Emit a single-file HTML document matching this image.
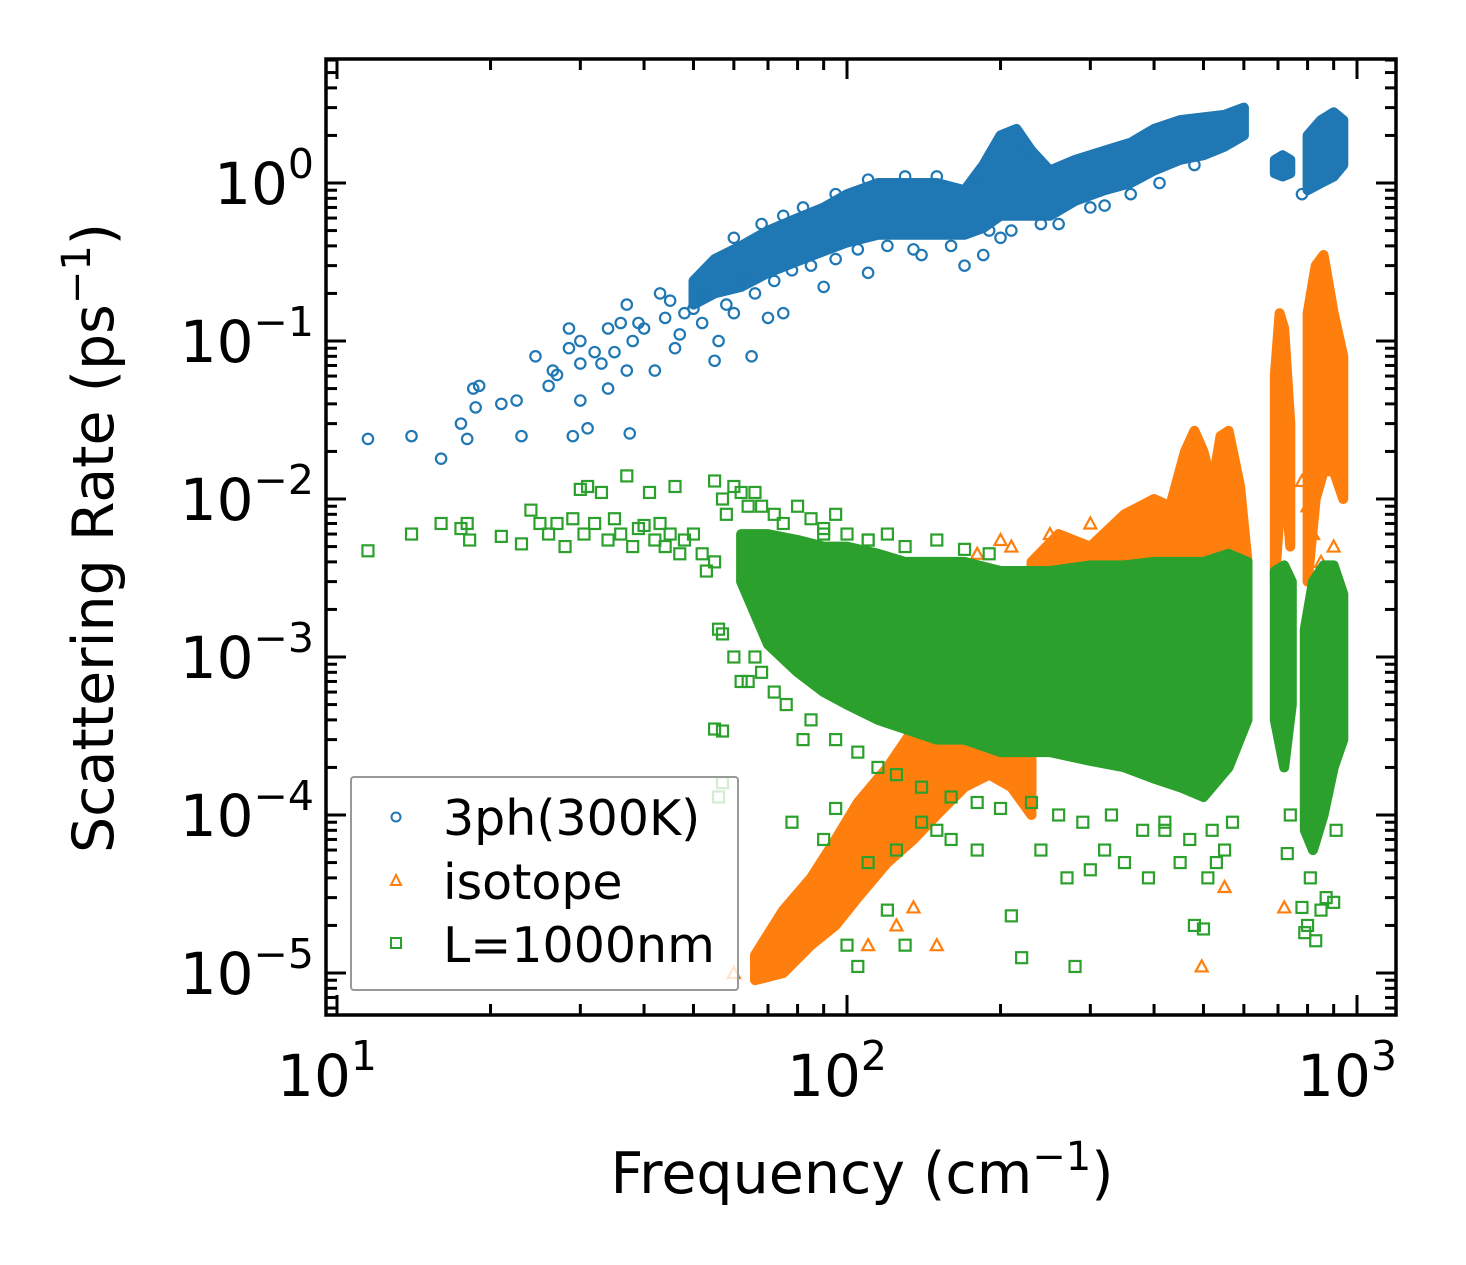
<!DOCTYPE html>
<html><head><meta charset="utf-8"><style>
body{margin:0;background:#fff;}
svg{display:block;font-family:"DejaVu Sans","Liberation Sans",sans-serif;}
</style></head><body>
<svg id="chart" width="1466" height="1265" viewBox="0 0 1466 1265" xmlns="http://www.w3.org/2000/svg">
<rect width="1466" height="1265" fill="#fff"/>
<defs><clipPath id="pc"><rect x="326" y="59" width="1070" height="956"/></clipPath></defs>
<g id="plot" clip-path="url(#pc)"></g>
<g id="axes"></g>
<g id="legend">
<rect x="351" y="777" width="387" height="213" rx="3" fill="#fff" fill-opacity="0.8" stroke="#999" stroke-width="2"/>
<circle cx="396" cy="817" r="4.5" fill="none" stroke="#1f77b4" stroke-width="2"/>
<text x="443" y="835" font-size="49">3ph(300K)</text>
<path d="M396,875 L401,885 L391,885 Z" fill="none" stroke="#ff7f0e" stroke-width="2"/>
<text x="443" y="899" font-size="49">isotope</text>
<rect x="391" y="938" width="10" height="10" fill="none" stroke="#2ca02c" stroke-width="2"/>
<text x="443" y="962" font-size="49">L=1000nm</text>
</g>
<text x="862" y="1193" font-size="57" text-anchor="middle">Frequency (cm<tspan dy="-23" font-size="40">−1</tspan><tspan dy="23">)</tspan></text>
<text transform="translate(113,538) rotate(-90)" font-size="57" text-anchor="middle">Scattering Rate (ps<tspan dy="-23" font-size="40">−1</tspan><tspan dy="23">)</tspan></text>
</svg>
<script>
// ---- data ----
const blueBandF=[50,55,62,70,80,90,100,115,130,150,170,185,200,215,230,250,280,320,360,400,450,500,550,600];
const blueBandLo=[0.17,0.2,0.22,0.27,0.32,0.37,0.42,0.47,0.47,0.47,0.47,0.52,0.62,0.62,0.62,0.62,0.77,0.9,1.0,1.2,1.4,1.5,1.7,2.0];
const blueBandHi=[0.24,0.33,0.4,0.5,0.6,0.7,0.85,1.0,1.0,1.0,0.9,1.3,2.0,2.2,1.6,1.2,1.4,1.6,1.8,2.2,2.5,2.6,2.7,3.0];
const blueB2F=[690,715,740];const blueB2Lo=[1.15,1.1,1.15];const blueB2Hi=[1.4,1.5,1.4];
const blueB3F=[800,850,900,940];const blueB3Lo=[0.9,1.0,1.1,1.3];const blueB3Hi=[2.0,2.5,2.8,2.5];
const blueF=[11.5,14,16,17.5,18,18.5,19,18.7,21,22.5,23,24.5,26,26.5,27,28.5,28.5,29,30,30,30,31,32,33,34,34,35,36,37,37.5,37,38,39,40,42,43,44,46,47,50,52,55,56,60,65,70,75,90,110,140,170,185,200,210,260,320,410,480,780,45,48,52,58,62,66,72,78,85,95,105,120,135,160,190,240,300,360,60,68,75,82,95,110,130,150,180,220];
const blueV=[0.024,0.025,0.018,0.03,0.024,0.05,0.052,0.038,0.04,0.042,0.025,0.08,0.052,0.065,0.061,0.12,0.09,0.025,0.1,0.042,0.072,0.028,0.085,0.072,0.05,0.12,0.085,0.13,0.065,0.026,0.17,0.1,0.13,0.12,0.065,0.2,0.14,0.09,0.11,0.16,0.13,0.075,0.1,0.15,0.08,0.14,0.15,0.22,0.27,0.35,0.3,0.35,0.45,0.5,0.55,0.72,1.0,1.3,0.85,0.18,0.15,0.2,0.17,0.25,0.2,0.24,0.28,0.3,0.33,0.38,0.4,0.38,0.4,0.5,0.55,0.7,0.85,0.45,0.55,0.62,0.7,0.85,1.05,1.1,1.1,1.0,1.5];

const orBandF=[66,75,85,95,105,120,135,150,170,190,210,230];
const orBandLo=[9e-6,1e-5,1.5e-5,2e-5,3e-5,5e-5,7e-5,1e-4,1.5e-4,1.8e-4,1.5e-4,1e-4];
const orBandHi=[1.3e-5,2.5e-5,4e-5,7e-5,1.2e-4,2e-4,3.5e-4,5e-4,7e-4,7e-4,5e-4,3e-4];
const orB2F=[230,260,300,350,400,430,460,480,500,520,540,560,590,610];
const orB2Lo=[3e-3,3e-3,3e-3,3e-3,3e-3,3e-3,3e-3,3e-3,3e-3,3e-3,3e-3,3e-3,3e-3,3e-3];
const orB2Hi=[4e-3,6e-3,5e-3,8e-3,1e-2,9e-3,2e-2,2.7e-2,2e-2,1.2e-2,2.5e-2,2.7e-2,1.2e-2,4e-3];
const orB3F=[690,705,720,740];const orB3Lo=[3e-3,8e-3,1.5e-2,5e-3];const orB3Hi=[0.06,0.15,0.12,0.03];
const orB4F=[800,830,860,900,940];const orB4Lo=[3e-3,1e-2,1.5e-2,1.5e-2,1e-2];const orB4Hi=[0.15,0.3,0.35,0.15,0.08];
const orF=[700,705,720,780,800,820,850,900,920,496,550,720,110,125,135,150,60,70,180,200,210,250,270,300];
const orV=[0.022,0.014,0.012,0.013,0.009,0.006,0.004,0.005,0.003,1.1e-5,3.5e-5,2.6e-5,1.5e-5,2e-5,2.6e-5,1.5e-5,1e-5,1.1e-5,4.5e-3,5.5e-3,5e-3,6e-3,5.5e-3,7e-3];

const grBandF=[62,70,80,90,100,115,130,150,170,200,250,300,350,400,450,500,560,610];
const grBandLo=[3e-3,1.2e-3,8e-4,6e-4,5e-4,4e-4,3.5e-4,3e-4,3e-4,2.5e-4,2.5e-4,2.2e-4,2e-4,1.7e-4,1.5e-4,1.3e-4,2e-4,4e-4];
const grBandHi=[6e-3,6e-3,5.5e-3,5e-3,5e-3,4.5e-3,4e-3,4e-3,4e-3,3.5e-3,3.5e-3,3.8e-3,3.8e-3,4e-3,4e-3,4e-3,4.5e-3,4e-3];
const grB2F=[690,720,745];const grB2Lo=[4e-4,2e-4,5e-4];const grB2Hi=[3.5e-3,3.8e-3,3e-3];
const grB3F=[790,820,860,900,940];const grB3Lo=[8e-5,6e-5,1e-4,2e-4,3e-4];const grB3Hi=[1.5e-3,3e-3,3.8e-3,3.8e-3,2.5e-3];
const grF=[11.5,14,16,17.5,18,18.2,21,23,24,25,26,27,28,29,30,30.5,31,32,33,34,35,36,37,38,39,40,41,42,43,44,45,46,47,48,50,52,53,55,55,57,58,60,62,64,66,68,72,75,80,85,90,95,100,110,120,56,57,55,57,57,56,60,62,64,66,78,82,90,95,100,105,110,120,125,130,140,150,160,180,210,220,240,270,280,300,320,350,390,420,450,480,500,510,530,550,730,740,780,790,800,810,830,850,870,900,910,68,72,76,85,95,105,115,125,140,160,180,200,230,260,290,330,380,420,470,520,570,130,150,170,190,110,90];
const grV=[4.7e-3,6e-3,7e-3,6.5e-3,7e-3,5.5e-3,5.8e-3,5.2e-3,8.5e-3,7e-3,6e-3,7e-3,5e-3,7.5e-3,1.15e-2,6e-3,1.2e-2,7e-3,1.1e-2,5.5e-3,7.5e-3,6e-3,1.4e-2,5e-3,6.5e-3,6.8e-3,1.1e-2,5.5e-3,7e-3,5e-3,6e-3,1.2e-2,4.5e-3,5.5e-3,6e-3,4.5e-3,3.5e-3,1.3e-2,4e-3,1e-2,8e-3,1.2e-2,1.1e-2,9e-3,1.1e-2,9e-3,8e-3,7e-3,9e-3,7.5e-3,6.5e-3,8e-3,6e-3,5.5e-3,6e-3,1.5e-3,1.4e-3,3.5e-4,3.4e-4,1.6e-4,1.3e-4,1e-3,7e-4,7e-4,1e-3,9e-5,3e-4,7e-5,1.1e-4,1.5e-5,1.1e-5,5e-5,2.5e-5,6e-5,1.5e-5,9e-5,8e-5,7e-5,6e-5,2.3e-5,1.25e-5,6e-5,4e-5,1.1e-5,4.5e-5,6e-5,5e-5,4e-5,8e-5,5e-5,2e-5,1.9e-5,4e-5,5e-5,6e-5,5.7e-5,1e-4,2.6e-5,1.8e-5,2e-5,4e-5,1.6e-5,2.5e-5,3e-5,2.8e-5,8e-5,8e-4,6e-4,5e-4,4e-4,3e-4,2.5e-4,2e-4,1.8e-4,1.5e-4,1.3e-4,1.2e-4,1.1e-4,1.2e-4,1e-4,9e-5,1e-4,8e-5,9e-5,7e-5,8e-5,9e-5,5e-3,5.5e-3,4.8e-3,4.5e-3,5.5e-3,6e-3];

const xTickVals=[1,2,3];const xTickLabels=["1","2","3"];
const yTickVals=[0,-1,-2,-3,-4,-5];const yTickLabels=["0","−1","−2","−3","−4","−5"];

// ---- axes ----
const X0=847,XD=510,Y0=183,YD=158;
function xs(f){return X0+XD*(Math.log10(f)-2);}
function ys(v){return Y0-YD*Math.log10(v);}
const NS="http://www.w3.org/2000/svg";
const plot=document.getElementById('plot'),axes=document.getElementById('axes');
function mk(tag,attrs,parent){const e=document.createElementNS(NS,tag);for(const k in attrs)e.setAttribute(k,attrs[k]);parent.appendChild(e);return e;}

function band(F,L,H,color,name){
  let d='M'+F.map((f,i)=>xs(f).toFixed(1)+','+ys(H[i]).toFixed(1)).join(' L');
  for(let i=F.length-1;i>=0;i--)d+=' L'+xs(F[i]).toFixed(1)+','+ys(L[i]).toFixed(1);
  d+=' Z';
  const p=mk('path',{d:d,fill:color,stroke:color,'stroke-width':10,'stroke-linejoin':'round'},plot);
  
  
}
function circles(F,V,color){
  F.forEach((f,i)=>{const c=mk('circle',{cx:xs(f),cy:ys(V[i]),r:5.2,fill:'none',stroke:color,'stroke-width':2.2},plot);
  
  });
}
function tris(F,V,color){
  F.forEach((f,i)=>{const x=xs(f),y=ys(V[i]);const t=mk('path',{d:`M${x},${y-6} L${x+6},${y+5} L${x-6},${y+5} Z`,fill:'none',stroke:color,'stroke-width':2.2},plot);
  
  });
}
function squares(F,V,color){
  F.forEach((f,i)=>{const r=mk('rect',{x:xs(f)-5.5,y:ys(V[i])-5.5,width:11,height:11,fill:'none',stroke:color,'stroke-width':2.2},plot);
  
  });
}
const B='#1f77b4',O='#ff7f0e',G='#2ca02c';
band(blueBandF,blueBandLo,blueBandHi,B,'band-3ph-main');
band(blueB2F,blueB2Lo,blueB2Hi,B,'band-3ph-700');
band(blueB3F,blueB3Lo,blueB3Hi,B,'band-3ph-850');
circles(blueF,blueV,B);
band(orBandF,orBandLo,orBandHi,O,'band-isotope-rising');
band(orB2F,orB2Lo,orB2Hi,O,'band-isotope-spikes');
band(orB3F,orB3Lo,orB3Hi,O,'band-isotope-700');
band(orB4F,orB4Lo,orB4Hi,O,'band-isotope-850');
tris(orF,orV,O);
band(grBandF,grBandLo,grBandHi,G,'band-l1000nm-main');
band(grB2F,grB2Lo,grB2Hi,G,'band-l1000nm-700');
band(grB3F,grB3Lo,grB3Hi,G,'band-l1000nm-850');
squares(grF,grV,G);

// frame
const L=326,R=1396,T=59,Bt=1015;
const fr=mk('rect',{x:L,y:T,width:R-L,height:Bt-T,fill:'none',stroke:'#000','stroke-width':3.5},axes);


for(let dec=0;dec<=3;dec++){for(let m=1;m<=9;m++){
  const f=Math.pow(10,dec)*m;const x=xs(f);if(x<L||x>R)continue;const len=m===1?20:11;
  const t1=mk('line',{x1:x,x2:x,y1:Bt,y2:Bt-len,stroke:'#000','stroke-width':3},axes);
  
  
  const t2=mk('line',{x1:x,x2:x,y1:T,y2:T+len,stroke:'#000','stroke-width':3},axes);
  
  
}}
xTickVals.forEach((e,i)=>{const x=xs(Math.pow(10,e));
  const t=mk('text',{x:x-10,y:1096,'font-size':58,'text-anchor':'middle'},axes);
  
  
  t.innerHTML='10<tspan dy="-26" font-size="41">'+xTickLabels[i]+'</tspan>';});
for(let dec=-6;dec<=0;dec++){for(let m=1;m<=9;m++){
  const v=Math.pow(10,dec)*m;const y=ys(v);if(y<T||y>Bt)continue;const len=m===1?20:11;
  const t1=mk('line',{x1:L,x2:L+len,y1:y,y2:y,stroke:'#000','stroke-width':3},axes);
  
  
  const t2=mk('line',{x1:R,x2:R-len,y1:y,y2:y,stroke:'#000','stroke-width':3},axes);
  
  
}}
yTickVals.forEach((e,i)=>{const y=ys(Math.pow(10,e));
  const t=mk('text',{x:314,y:y+21,'font-size':58,'text-anchor':'end'},axes);
  
  
  t.innerHTML='10<tspan dy="-26" font-size="41">'+yTickLabels[i]+'</tspan>';});
</script>
</body></html>
